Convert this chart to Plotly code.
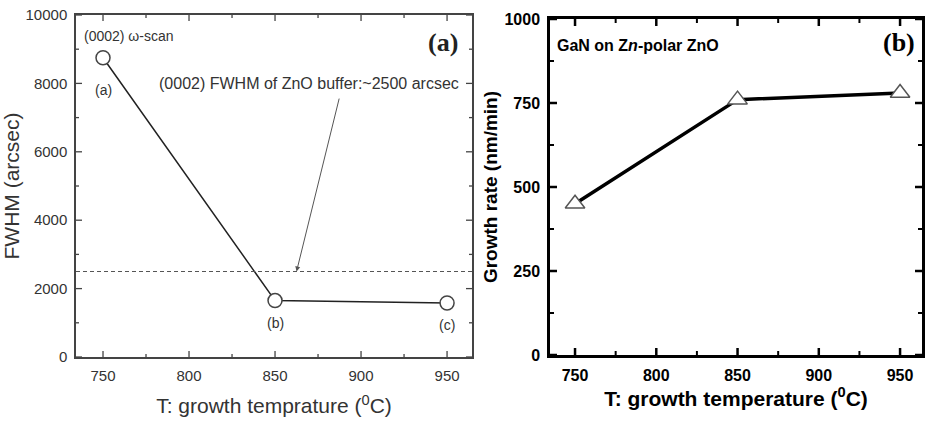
import plotly.graph_objects as go

# (a) X-ray rocking curve width versus growth temperature
temp_a = [750, 850, 950]
fwhm_a = [8750, 1650, 1580]
point_labels_a = ["(a)", "(b)", "(c)"]
zno_buffer_fwhm = 2500

# (b) GaN growth rate versus growth temperature
temp_b = [750, 850, 950]
rate_b = [450, 760, 780]

x_ticks = [750, 800, 850, 900, 950]
x_minor = [775, 825, 875, 925]
y_ticks_a = [0, 2000, 4000, 6000, 8000, 10000]
y_minor_a = [1000, 3000, 5000, 7000, 9000]
y_ticks_b = [0, 250, 500, 750, 1000]
y_minor_b = [125, 375, 625, 875]

W, H = 926, 423

# plot-area boxes in pixels: left, top, right, bottom
box_a = (76, 15, 472, 357)
box_b = (550, 19, 922, 355)


def dom_x(box):
    return [box[0] / W, box[2] / W]


def dom_y(box):
    return [1 - box[3] / H, 1 - box[1] / H]


fig = go.Figure()

# panel (a)
fig.add_trace(go.Scatter(
    x=temp_a, y=fwhm_a, mode="lines+markers",
    line=dict(color="#222222", width=1.5),
    marker=dict(symbol="circle", size=14, color="white",
                line=dict(color="#444444", width=1.5)),
    xaxis="x", yaxis="y", showlegend=False, cliponaxis=False))

# panel (b)
fig.add_trace(go.Scatter(
    x=temp_b, y=rate_b, mode="lines+markers",
    line=dict(color="black", width=3.5),
    marker=dict(symbol="triangle-up", size=17, color="white",
                line=dict(color="#555555", width=1.5)),
    xaxis="x2", yaxis="y2", showlegend=False, cliponaxis=False))

font_a = dict(family="Liberation Sans, Arial, sans-serif", color="#333333")
font_b = dict(family="Liberation Sans, Arial, sans-serif", color="black")

common_a = dict(showline=True, linecolor="#444444", linewidth=1.5, mirror=True,
                ticks="", tickformat="d",
                showgrid=False, zeroline=False, automargin=False)
common_b = dict(showline=True, linecolor="black", linewidth=2.5, mirror=True,
                ticks="", tickformat="d",
                showgrid=False, zeroline=False, automargin=False)

fig.update_layout(
    width=W, height=H,
    margin=dict(l=0, r=0, t=0, b=0),
    paper_bgcolor="white", plot_bgcolor="white",
    xaxis=dict(domain=dom_x(box_a), range=[734.3, 964.5],
               tickvals=x_ticks, anchor="y", ticklabelstandoff=4,
               tickfont=dict(size=15, **font_a),
               title=dict(text="T: growth temprature (<sup>0</sup>C)",
                          font=dict(size=21, **font_a), standoff=16),
               **common_a),
    yaxis=dict(domain=dom_y(box_a), range=[0, 10000],
               tickvals=y_ticks_a, anchor="x", ticklabelstandoff=4,
               tickfont=dict(size=15, **font_a),
               title=dict(text="FWHM (arcsec)", font=dict(size=21, **font_a), standoff=0),
               **common_a),
    xaxis2=dict(domain=dom_x(box_b), range=[734.6, 963.5],
                tickvals=x_ticks, anchor="y2", ticklabelstandoff=4,
                tickfont=dict(size=16, weight="bold", **font_b),
                title=dict(text="T: growth temperature (<sup>0</sup>C)",
                           font=dict(size=21, weight="bold", **font_b), standoff=6),
                **common_b),
    yaxis2=dict(domain=dom_y(box_b), range=[0, 1000],
                tickvals=y_ticks_b, anchor="x2", ticklabelstandoff=4,
                tickfont=dict(size=16, weight="bold", **font_b),
                title=dict(text="Growth rate (nm/min)",
                           font=dict(size=19, weight="bold", **font_b), standoff=2),
                **common_b),
)


def add_ticks(xa, ya, box, xt, yt, length, color, width):
    """Inward tick marks on all four sides of a panel."""
    fx = length / (box[2] - box[0])
    fy = length / (box[3] - box[1])
    style = dict(color=color, width=width)
    for t in xt:
        fig.add_shape(type="line", xref=xa, yref=ya + " domain", x0=t, x1=t,
                      y0=0, y1=fy, line=style)
        fig.add_shape(type="line", xref=xa, yref=ya + " domain", x0=t, x1=t,
                      y0=1, y1=1 - fy, line=style)
    for t in yt:
        fig.add_shape(type="line", xref=xa + " domain", yref=ya, y0=t, y1=t,
                      x0=0, x1=fx, line=style)
        fig.add_shape(type="line", xref=xa + " domain", yref=ya, y0=t, y1=t,
                      x0=1, x1=1 - fx, line=style)


add_ticks("x", "y", box_a, x_ticks, y_ticks_a, 6, "#444444", 1.3)
add_ticks("x", "y", box_a, x_minor, y_minor_a, 3, "#444444", 1.3)
add_ticks("x2", "y2", box_b, x_ticks, y_ticks_b, 7, "black", 2.5)
add_ticks("x2", "y2", box_b, x_minor, y_minor_b, 4, "black", 2)

# ZnO buffer reference level
fig.add_shape(type="line", xref="x domain", yref="y", x0=0, x1=1,
              y0=zno_buffer_fwhm, y1=zno_buffer_fwhm,
              line=dict(color="#555555", width=1.2, dash="4px,3px"))

# point labels under the markers of panel (a)
label_offsets = [-950, -650, -650]
for xv, yv, lab, off in zip(temp_a, fwhm_a, point_labels_a, label_offsets):
    fig.add_annotation(x=xv, y=yv + off, xref="x", yref="y", text=lab,
                       showarrow=False, font=dict(size=14, **font_a))

fig.add_annotation(x=737.5, y=9380, xref="x", yref="y", text="(0002) ω-scan",
                   xanchor="left", showarrow=False, font=dict(size=14, **font_a))

# caption and arrow pointing at the buffer level
fig.add_annotation(x=958, y=8000, xref="x", yref="y",
                   text="(0002) FWHM of ZnO buffer:~2500 arcsec",
                   xanchor="right", yanchor="middle", showarrow=False,
                   font=dict(size=16, **font_a))
fig.add_annotation(x=862.5, y=zno_buffer_fwhm, ax=887.5, ay=7600, xref="x", yref="y",
                   axref="x", ayref="y", text="",
                   showarrow=True, arrowhead=2, arrowsize=1, arrowwidth=1,
                   arrowcolor="#555555", standoff=0, startstandoff=0)

serif = "Liberation Serif, Times New Roman, serif"
fig.add_annotation(x=443 / W, y=1 - 42 / H, xref="paper", yref="paper", text="<b>(a)</b>",
                   xanchor="center", yanchor="middle", showarrow=False,
                   font=dict(size=26, family=serif, color="#222222"))
fig.add_annotation(x=899 / W, y=1 - 42 / H, xref="paper", yref="paper", text="<b>(b)</b>",
                   xanchor="center", yanchor="middle", showarrow=False,
                   font=dict(size=26, family=serif, color="black"))
fig.add_annotation(x=555 / W, y=1 - 45 / H, xref="paper", yref="paper",
                   text="<b>GaN on Z<i>n</i>-polar ZnO</b>",
                   xanchor="left", yanchor="middle", showarrow=False,
                   font=dict(size=16, **font_b))

fig.write_html("out.html")
